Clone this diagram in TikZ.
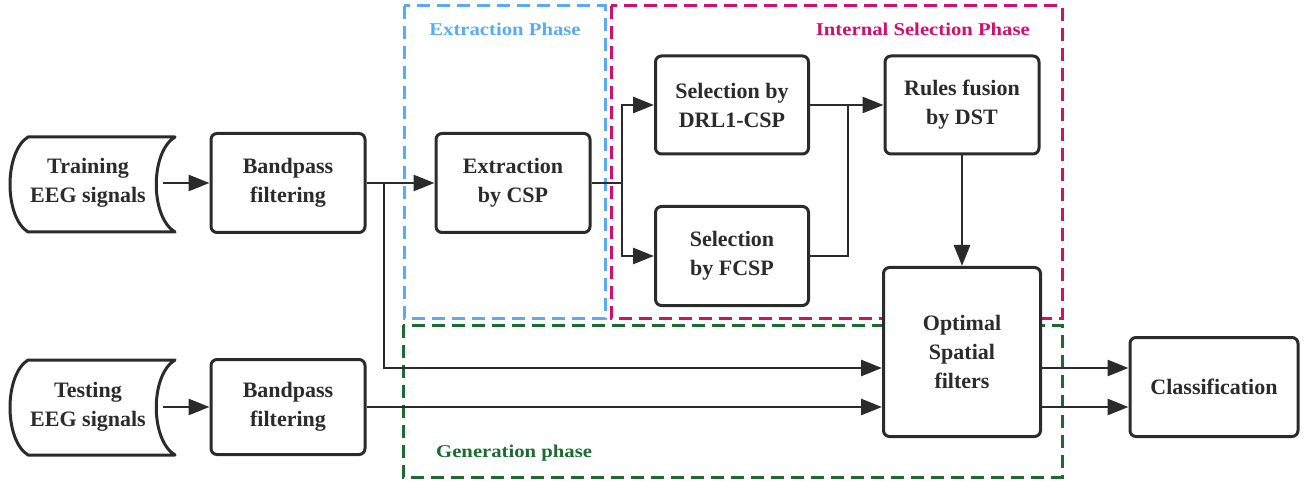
\documentclass[tikz,border=0pt]{standalone}
\usepackage{fontspec}
\setmainfont{Liberation Serif}
\newfontfamily\boxfont{Liberation Serif}
\newfontfamily\phasefont{Liberation Serif}[FakeStretch=1.15]
\usetikzlibrary{arrows.meta,calc}
\definecolor{ink}{HTML}{2B2B2B}
\definecolor{extblue}{HTML}{5AACF2}
\definecolor{selmag}{HTML}{D0106A}
\definecolor{gengreen}{HTML}{1C6B30}
\begin{document}
\begin{tikzpicture}[x=1pt,y=-1pt,
  box/.style={draw=ink, fill=white, line width=3pt, rounded corners=6pt, align=center,
    font=\boxfont\fontsize{22}{29}\selectfont\bfseries, text=ink, inner sep=0pt},
  store/.style={align=center, font=\boxfont\fontsize{22}{29}\selectfont\bfseries, text=ink,
    inner sep=0pt, minimum width=150pt, minimum height=95pt},
  storeline/.style={draw=ink, line width=3pt, line join=round},
  arr/.style={draw=ink, line width=2.7pt, -{Triangle[length=21pt,width=16pt]}},
  ln/.style={draw=ink, line width=2.7pt},
  phase/.style={line width=3pt, dash pattern=on 13pt off 7pt},
  plabel/.style={font=\phasefont\fontsize{18}{20}\selectfont\bfseries, inner sep=0pt}
]
\useasboundingbox (0,0) rectangle (1307,481);
% phase frames
\draw[phase, extblue] (404,6) rectangle (605,318);
\draw[phase, selmag] (611,6) rectangle (1062,318);
\draw[phase, gengreen] (403,325) rectangle (1062,477);
\node[plabel, text=extblue] (lext) at (505,29) {Extraction Phase};
\node[plabel, text=selmag, anchor=east] (lsel) at (1030,29) {Internal Selection Phase};
\node[plabel, text=gengreen, anchor=west] (lgen) at (436,453) {Generation phase};
% storage shapes
\draw[storeline] (28,137) -- (175,137) .. controls (150,152) and (150,217) .. (175,232)
  -- (28,232) .. controls (4,217) and (4,152) .. (28,137) -- cycle;
\draw[storeline] (28,360) -- (175,360) .. controls (150,375) and (150,440) .. (175,455)
  -- (28,455) .. controls (4,440) and (4,375) .. (28,360) -- cycle;
\node[store] (train) at (88,183) {Training\\EEG signals};
\node[store] (test) at (88,407) {Testing\\EEG signals};
% boxes
\node[box, minimum width=154pt, minimum height=99pt] (bp1) at (288,183) {Bandpass\\filtering};
\node[box, minimum width=154pt, minimum height=95pt] (bp2) at (288,407) {Bandpass\\filtering};
\node[box, minimum width=154pt, minimum height=99pt] (csp) at (513,183) {Extraction\\by CSP};
\node[box, minimum width=153pt, minimum height=98pt] (drl) at (732,105) {Selection by\\DRL1-CSP};
\node[box, minimum width=153pt, minimum height=99pt] (fcsp) at (732,256) {Selection\\by FCSP};
\node[box, minimum width=154pt, minimum height=98pt] (dst) at (962,105) {Rules fusion\\by DST};
\node[box, minimum width=157pt, minimum height=169pt] (opt) at (962,352) {Optimal\\Spatial\\filters};
\node[box, minimum width=168pt, minimum height=99pt] (cls) at (1214,387) {Classification};
% connectors
\draw[arr] (train.east) -- (bp1.west);
\draw[arr] (test.east) -- (bp2.west);
\draw[arr] (bp1.east) -- (csp.west);
\coordinate (j1) at (384,183);
\draw[arr] (j1) |- ($(opt.west)+(0,16)$);
\draw[arr] (bp2.east) -- (bp2.east -| opt.west);
\coordinate (j2) at (622,183);
\draw[ln] (csp.east) -- (j2);
\draw[arr] (j2) |- (drl.west);
\draw[arr] (j2) |- (fcsp.west);
\draw[arr] (drl.east) -- (dst.west);
\coordinate (j3) at (848,105);
\draw[ln] (fcsp.east) -| (j3);
\draw[arr] (dst.south) -- (opt.north);
\draw[arr] ($(opt.east)+(0,16)$) -- ($(cls.west)+(0,-19)$);
\draw[arr] ($(opt.east)+(0,55)$) -- ($(cls.west)+(0,20)$);
\end{tikzpicture}
\end{document}
